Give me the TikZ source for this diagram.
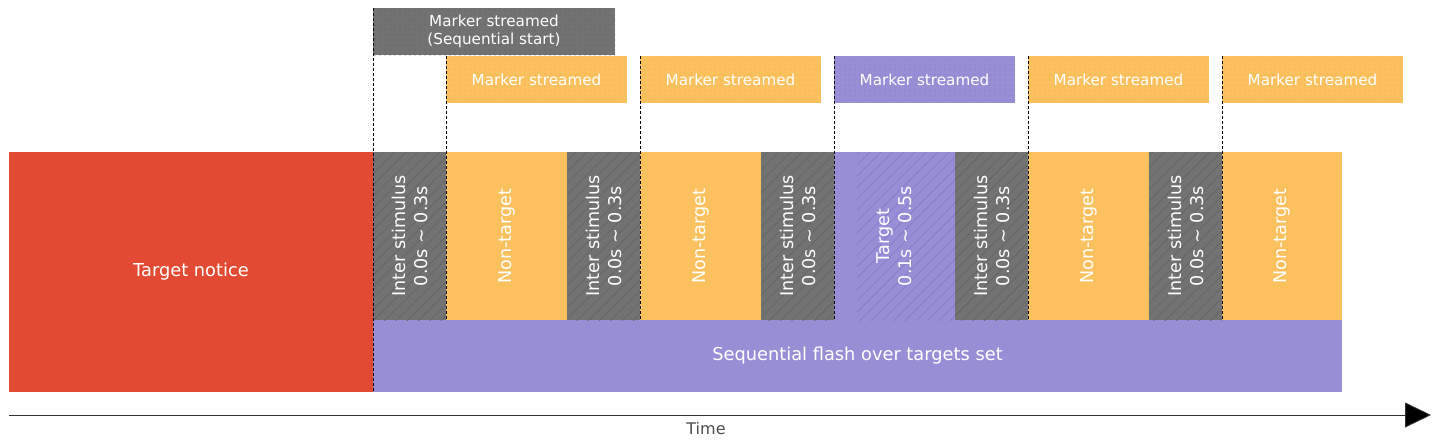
\documentclass[tikz,border=0pt]{standalone}
\usepackage{fontspec}
\setmainfont{DejaVu Sans}
\usetikzlibrary{positioning, arrows.meta, patterns.meta}
\definecolor{tnred}{HTML}{E24A33}
\definecolor{flashpurple}{HTML}{988ED5}
\definecolor{hatchpurple}{HTML}{8479C9}
\definecolor{isigray}{HTML}{727272}
\definecolor{hatchgray}{HTML}{646464}
\definecolor{ntorange}{HTML}{FBC15E}
\definecolor{dotorange}{HTML}{F2B24C}
\definecolor{dotpurple}{HTML}{857ACB}
\definecolor{dotgray}{HTML}{646464}
\tikzset{>=latex}

\begin{document}
\begin{tikzpicture}[x=1pt, y=-1pt]
\tikzset{every node/.style={rectangle, inner sep=0pt, outer sep=0pt, anchor=north west, text=white, align=center},
	segment/.style={minimum height=168pt},
	isibox/.style={segment, minimum width=73pt, fill=isigray, postaction={pattern={Lines[angle=45, distance=8pt, line width=0.6pt]}, pattern color=hatchgray}},
	ntbox/.style={segment, minimum width=121pt, fill=ntorange},
	markbox/.style={minimum width=181pt, minimum height=47pt, font=\fontsize{15.2}{18}\selectfont, postaction={pattern={Dots[distance=5pt, radius=0.6pt]}}},
	ntmark/.style={markbox, fill=ntorange, pattern color=dotorange},
	tmark/.style={markbox, fill=flashpurple, pattern color=dotpurple},
	vtext/.style={anchor=center, rotate=90, font=\fontsize{17.6}{22}\selectfont},
	markline/.style={draw=black, dash pattern=on 3pt off 2pt, line width=0.8pt}}
\useasboundingbox (0,0) rectangle (1440,445);

% left block and flash bar
\node[fill=tnred, minimum width=364pt, minimum height=240pt, font=\fontsize{17.8}{20}\selectfont] (tn) at (9,152) {Target notice};
\node[fill=flashpurple, minimum width=969pt, minimum height=72pt, font=\fontsize{17.8}{20}\selectfont] (flash) at (373,320) {Sequential flash over targets set};

% stimulus sequence
\node[isibox] (i1) at (373,152) {};
\node[ntbox] (n1) at (446,152) {};
\node[isibox] (i2) at (567,152) {};
\node[ntbox] (n2) at (640,152) {};
\node[isibox] (i3) at (761,152) {};
\node[segment, minimum width=121pt, fill=flashpurple] (tg) at (834,152) {};
\node[segment, minimum width=98pt, pattern={Lines[angle=45, distance=8pt, line width=0.6pt]}, pattern color=hatchpurple] (tgh) at (857,152) {};
\node[isibox] (i4) at (955,152) {};
\node[ntbox] (n3) at (1028,152) {};
\node[isibox] (i5) at (1149,152) {};
\node[ntbox, minimum width=120pt] (n4) at (1222,152) {};

\foreach \b in {i1,i2,i3,i4,i5}
	\node[vtext] (\b txt) at (\b.center) {Inter stimulus\\0.0s \textasciitilde{} 0.3s};
\foreach \b in {n1,n2,n3,n4}
	\node[vtext] (\b txt) at (\b.center) {Non-target};
\node[vtext] (tgtxt) at (tg.center) {Target\\0.1s \textasciitilde{} 0.5s};

% markers
\node[markbox, minimum width=242pt, fill=isigray, pattern color=dotgray, font=\fontsize{15.2}{18}\selectfont] (m0) at (373,8) {Marker streamed\\(Sequential start)};
\node[ntmark] (m1) at (446,56) {Marker streamed};
\node[ntmark] (m2) at (640,56) {Marker streamed};
\node[tmark] (m3) at (834,56) {Marker streamed};
\node[ntmark] (m4) at (1028,56) {Marker streamed};
\node[ntmark] (m5) at (1222,56) {Marker streamed};

\draw[markline] (m0.north west) -- (flash.south west);
\draw[markline] (m1.north west) -- (i1.south east);
\draw[markline] (m2.north west) -- (n2.south west);
\draw[markline] (m3.north west) -- (tg.south west);
\draw[markline] (m4.north west) -- (n3.south west);
\draw[markline] (m5.north west) -- (n4.south west);

% time axis
\coordinate (t0) at (9,415);
\coordinate (t1) at (1431,415);
\draw[draw=black!80, line width=0.9pt, -{Triangle[length=26pt, width=25pt, fill=black]}] (t0) -- (t1);
\node[anchor=center, text=black!70, font=\fontsize{16}{18}\selectfont] (time) at (706,429) {Time};

\end{tikzpicture}
\end{document}
